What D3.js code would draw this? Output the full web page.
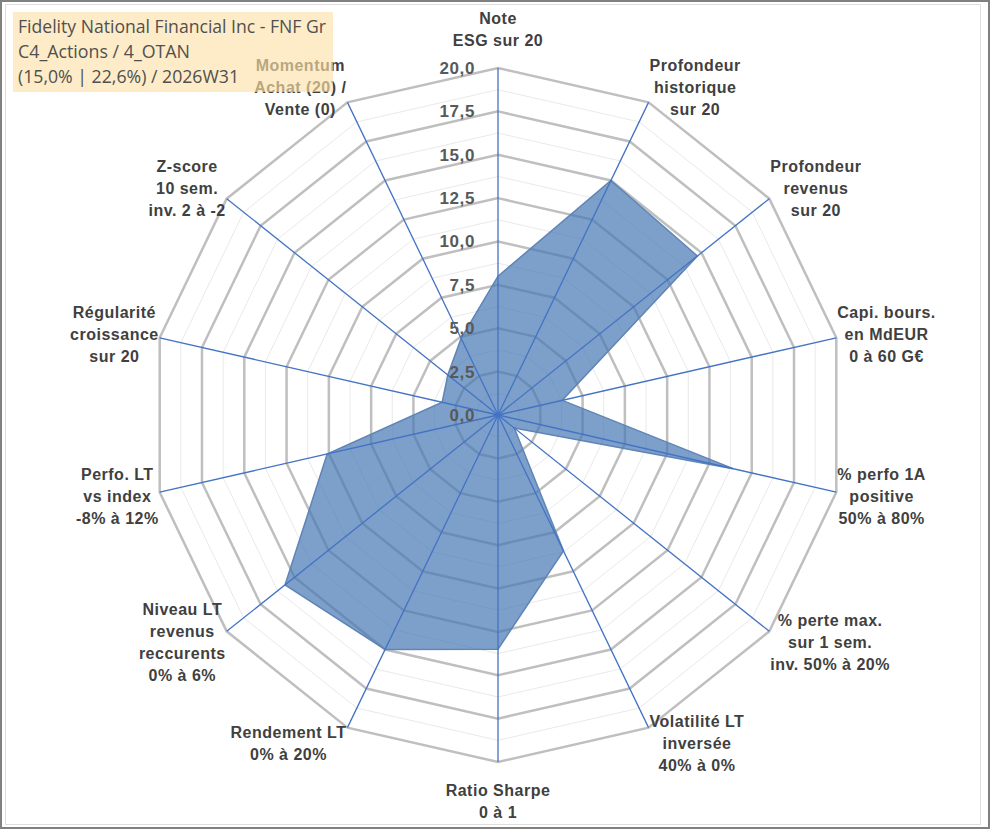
<!DOCTYPE html>
<html>
<head>
<meta charset="utf-8">
<script src="https://cdn.jsdelivr.net/npm/d3@7"></script>
<style>
  body { margin: 0; background: #fff; }
  svg { display: block; }
</style>
</head>
<body>
<script>
const width = 991;
const height = 830;
const cx = 498, cy = 415, radius = 347;

// axes, clockwise from the top
const axisLabels = [
    ["Note", "ESG sur 20"],
    ["Profondeur", "historique", "sur 20"],
    ["Profondeur", "revenus", "sur 20"],
    ["Capi. bours.", "en MdEUR", "0 à 60 G€"],
    ["% perfo 1A", "positive", "50% à 80%"],
    ["% perte max.", "sur 1 sem.", "inv. 50% à 20%"],
    ["Volatilité LT", "inversée", "40% à 0%"],
    ["Ratio Sharpe", "0 à 1"],
    ["Rendement LT", "0% à 20%"],
    ["Niveau LT", "revenus", "reccurents", "0% à 6%"],
    ["Perfo. LT", "vs index", "-8% à 12%"],
    ["Régularité", "croissance", "sur 20"],
    ["Z-score", "10 sem.", "inv. 2 à -2"],
    ["Momentum", "Achat (20) /", "Vente (0)"]
];
const scores = [8.0, 15.0, 14.7, 3.8, 13.9, 1.2, 8.7, 13.5, 15.0, 15.7, 10.1, 3.3, 3.7, 4.9];
const ringTicks = [0, 2.5, 5, 7.5, 10, 12.5, 15, 17.5, 20];
const minorTicks = [1.25, 3.75, 6.25, 8.75, 11.25, 13.75, 16.25, 18.75];
const titleLines = [
    "Fidelity National Financial Inc - FNF Gr",
    "C4_Actions / 4_OTAN",
    "(15,0% | 22,6%) / 2026W31"
];

const n = axisLabels.length;
const angle = d3.scaleLinear().domain([0, n]).range([0, 2 * Math.PI]);
const r = d3.scaleLinear().domain([0, 20]).range([0, radius]);
const fmt = v => v.toFixed(1).replace(".", ",");

let svg = d3.select("body").append("svg")
    .attr("width", width)
    .attr("height", height)

// frames
svg.append("rect")
    .attr("x", 1).attr("y", 1)
    .attr("width", width - 3).attr("height", height - 3)
    .attr("fill", "#fff")
    .attr("stroke", "#808080")
    .attr("stroke-width", 2)
svg.append("rect")
    .attr("x", 5.5).attr("y", 4.5)
    .attr("width", 975).attr("height", 820)
    .attr("fill", "none")
    .attr("stroke", "#dedede")

let g = svg.append("g")
    .attr("transform", `translate(${cx},${cy})`)

const ring = d3.lineRadial().curve(d3.curveLinearClosed);
const ringPath = v => ring(d3.range(n).map(i => [angle(i), r(v)]));

// minor rings
g.selectAll(".minor")
    .data(minorTicks)
    .join("path")
    .attr("class", "minor")
    .attr("d", ringPath)
    .attr("fill", "none")
    .attr("stroke", "#e9e9e9")
    .attr("stroke-width", 1)

// major rings
g.selectAll(".major")
    .data(ringTicks.filter(v => v > 0))
    .join("path")
    .attr("class", "major")
    .attr("d", ringPath)
    .attr("fill", "none")
    .attr("stroke", "#bfbfbf")
    .attr("stroke-width", 2.5)

// series area
const area = d3.lineRadial()
    .angle((d, i) => angle(i))
    .radius(d => r(d))
    .curve(d3.curveLinearClosed);

g.append("path")
    .datum(scores)
    .attr("d", area)
    .attr("fill", "#4678b4")
    .attr("fill-opacity", 0.7)
    .attr("stroke", "#5f84b6")
    .attr("stroke-width", 1.5)

// spokes
g.selectAll(".spoke")
    .data(d3.range(n))
    .join("line")
    .attr("class", "spoke")
    .attr("x1", 0).attr("y1", 0)
    .attr("x2", i => d3.pointRadial(angle(i), r(20))[0])
    .attr("y2", i => d3.pointRadial(angle(i), r(20))[1])
    .attr("stroke", "#4472c4")
    .attr("stroke-width", 1.3)

g.append("circle")
    .attr("r", 2.5)
    .attr("fill", "#4472c4")

// radial tick labels
g.selectAll(".tick")
    .data(ringTicks)
    .join("text")
    .attr("class", "tick")
    .attr("x", -23)
    .attr("y", d => -r(d))
    .attr("dy", "0.35em")
    .attr("text-anchor", "end")
    .attr("font-family", "Liberation Sans, Arial, sans-serif")
    .attr("font-weight", "bold")
    .attr("font-size", 17)
    .attr("letter-spacing", 0.6)
    .attr("fill", "#595959")
    .text(fmt)

// axis labels, box placed beside the outer vertex
const lineH = 22;
axisLabels.forEach((lines, i) => {
    const a = angle(i);
    const [vx, vy] = d3.pointRadial(a, r(20));
    const s = Math.sin(a), c = Math.cos(a);
    const t = g.append("text")
        .attr("text-anchor", "middle")
        .attr("font-family", "Liberation Sans, Arial, sans-serif")
        .attr("font-weight", "bold")
        .attr("font-size", 16)
        .attr("letter-spacing", 0.5)
        .attr("fill", "#404040")
    t.selectAll("tspan")
        .data(lines)
        .join("tspan")
        .attr("x", 0)
        .attr("y", (d, j) => (j - (lines.length - 1) / 2) * lineH)
        .attr("dy", "0.35em")
        .text(d => d)
    const w = t.node().getBBox().width;
    const h = lines.length * lineH;
    let x, y;
    if (Math.abs(s) < 0.01) {
        x = vx;
        y = vy - Math.sign(c) * (17 + h / 2);
    } else {
        x = vx + Math.sign(s) * (w / 2 + 1);
        y = vy - c * 17;
    }
    t.attr("transform", `translate(${x},${y})`)
});

// title box
svg.append("rect")
    .attr("x", 13).attr("y", 12)
    .attr("width", 320).attr("height", 80)
    .attr("fill", "rgb(252,226,168)")
    .attr("fill-opacity", 0.64)

const titleFits = [308, 172, 221];
svg.selectAll(".title")
    .data(titleLines)
    .join("text")
    .attr("class", "title")
    .attr("x", 18)
    .attr("y", (d, i) => 33 + i * 25)
    .attr("font-family", "Open Sans, sans-serif")
    .attr("font-size", 18.5)
    .attr("fill", "#505050")
    .attr("textLength", (d, i) => titleFits[i])
    .attr("lengthAdjust", "spacingAndGlyphs")
    .text(d => d)
</script>
</body>
</html>
